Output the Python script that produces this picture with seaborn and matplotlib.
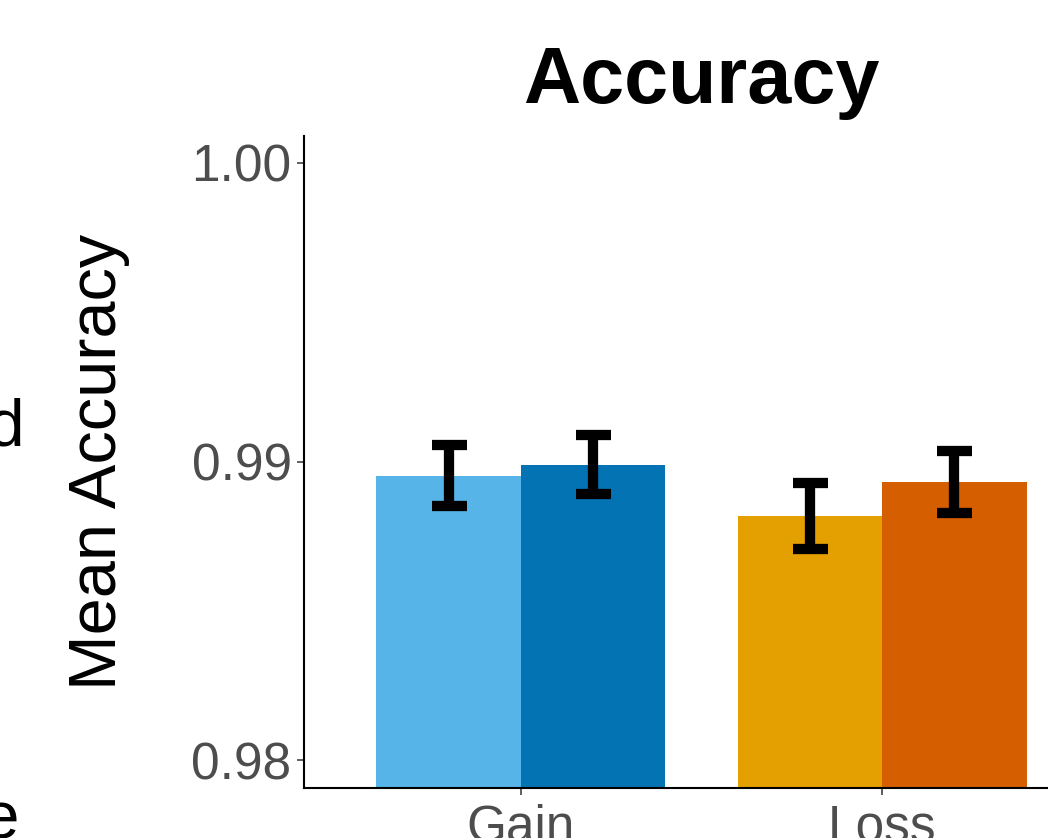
import matplotlib
matplotlib.use("Agg")
import numpy as np
import pandas as pd
import seaborn as sns
from matplotlib import pyplot as plt

# values
conditions = ["Gain", "Loss"]
levels = ["Low", "High"]
mean_gain = [0.98952, 0.98990]
mean_loss = [0.98818, 0.98931]
se_gain = [0.00102, 0.00100]
se_loss = [0.00111, 0.00103]
colors_gain = ["#56B4E9", "#0473B3"]
colors_loss = ["#E49F00", "#D55E00"]
yticks = [0.98, 0.99, 1.00]

sns.set_theme(style="ticks")
plt.rcParams["font.family"] = ["Liberation Sans", "DejaVu Sans"]
plt.rcParams["text.color"] = "black"

df = pd.DataFrame({
    "condition": ["Gain"] * 2 + ["Loss"] * 2,
    "level": levels * 2,
    "accuracy": mean_gain + mean_loss,
    "se": se_gain + se_loss,
})

fig = plt.figure(figsize=(10.48, 8.38), dpi=100)
W, H = 1048, 838
ax = fig.add_axes([304 / W, (H - 788) / H, (1099 - 304) / W, (788 - 136) / H])

for cond, pal in [("Gain", colors_gain), ("Loss", colors_loss)]:
    sub = df[df["condition"] == cond]
    sns.barplot(data=sub, x="condition", y="accuracy", hue="level",
                order=conditions, hue_order=levels, palette=pal,
                errorbar=None, width=0.8, saturation=1, legend=False,
                linewidth=0, ax=ax)

# error bars at the centres of the bars seaborn drew
bars = [p for p in ax.patches if p.get_height() > 0]
xs = [p.get_x() + p.get_width() / 2 for p in bars]
ax.errorbar(xs, df["accuracy"], yerr=df["se"], fmt="none", ecolor="black",
            elinewidth=7.4, capsize=12.6, capthick=7.4, zorder=5)

ax.set_xlim(-0.6, 1.6)
ax.set_ylim(0.97907, 1.0009)
ax.set_yticks(yticks)
ax.set_yticklabels([f"{v:.2f}" for v in yticks])
ax.tick_params(axis="both", labelsize=37, labelcolor="#4D4D4D", color="#333333",
               length=5, width=1.1, pad=4)
ax.tick_params(axis="x", pad=6)
for s in ["top", "right"]:
    ax.spines[s].set_visible(False)
for s in ["left", "bottom"]:
    ax.spines[s].set_color("black")
    ax.spines[s].set_linewidth(1.5)

ax.set_xlabel("")
ax.set_ylabel("Mean Accuracy", fontsize=48, color="black")
ax.yaxis.set_label_coords((130 - 304) / 795, 0.5)
ax.set_title("Accuracy", fontsize=57, fontweight="bold", color="black", pad=24)

# fragments of the neighbouring panel's text at the left edge
fig.text(25 / W, 1 - 445 / H, "Reward", fontsize=48, color="black", ha="right", va="baseline")
fig.text(20 / W, 1 - 838 / H, "Outcome", fontsize=48, color="black", ha="right", va="baseline")

fig.savefig("out.png", dpi=100)
